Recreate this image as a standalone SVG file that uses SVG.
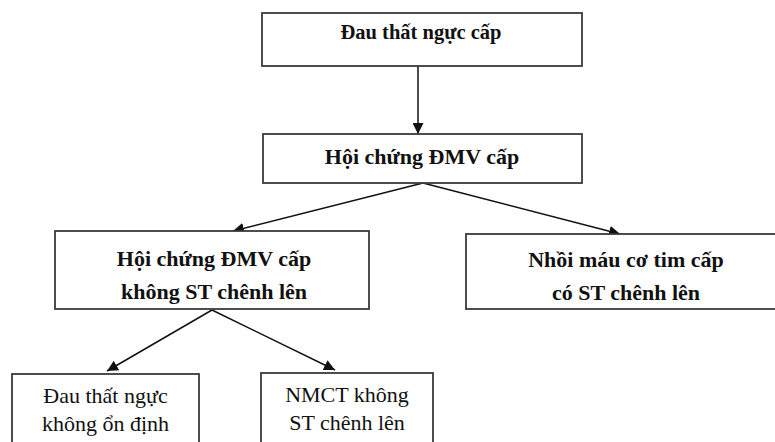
<svg xmlns="http://www.w3.org/2000/svg" width="775" height="442" viewBox="0 0 775 442">
<style>
.box{fill:#fff;stroke:#3a3a3a;stroke-width:1.8}
.b{font-family:'Liberation Serif','Times New Roman','DejaVu Serif',serif;font-weight:bold;fill:#111;text-anchor:middle;font-size:22px}
.r{font-family:'Liberation Serif','Times New Roman','DejaVu Serif',serif;fill:#111;text-anchor:middle;font-size:22px}
.c{stroke:#111;stroke-width:1.5;fill:none}
</style>
<defs>
<marker id="ah2" viewBox="0 0 10 10" refX="10" refY="5" markerWidth="11" markerHeight="11" markerUnits="userSpaceOnUse" orient="auto">
<path d="M0,0 L10,5 L0,10 z" fill="#111"/>
</marker>
</defs>
<g id="connectors">
<line class="c" x1="418" y1="66" x2="418" y2="134" marker-end="url(#ah2)"/>
<line class="c" x1="423" y1="183" x2="233" y2="231" marker-end="url(#ah2)"/>
<line class="c" x1="423" y1="183" x2="620" y2="234" marker-end="url(#ah2)"/>
<line class="c" x1="212" y1="310" x2="107" y2="371" marker-end="url(#ah2)"/>
<line class="c" x1="212" y1="310" x2="335" y2="370" marker-end="url(#ah2)"/>
</g>
<g id="node1">
<rect class="box" x="262" y="13" width="320" height="53"/>
<text class="b" x="421" y="39" style="font-size:20.5px">Đau thất ngực cấp</text>
</g>
<g id="node2">
<rect class="box" x="263" y="134" width="319" height="49"/>
<text class="b" x="422" y="164">Hội chứng ĐMV cấp</text>
</g>
<g id="node3">
<rect class="box" x="55" y="231" width="314" height="78"/>
<text class="b" x="214" y="266">Hội chứng ĐMV cấp</text>
<text class="b" x="214" y="299">không ST chênh lên</text>
</g>
<g id="node4">
<rect class="box" x="466" y="234" width="320" height="75"/>
<text class="b" x="626" y="267">Nhồi máu cơ tim cấp</text>
<text class="b" x="626" y="300">có ST chênh lên</text>
</g>
<g id="node5">
<rect class="box" x="12" y="374" width="187" height="80"/>
<text class="r" x="105.5" y="403">Đau thất ngực</text>
<text class="r" x="105.5" y="431">không ổn định</text>
</g>
<g id="node6">
<rect class="box" x="261" y="373" width="172" height="80"/>
<text class="r" x="347" y="402">NMCT không</text>
<text class="r" x="347" y="430">ST chênh lên</text>
</g>
</svg>
